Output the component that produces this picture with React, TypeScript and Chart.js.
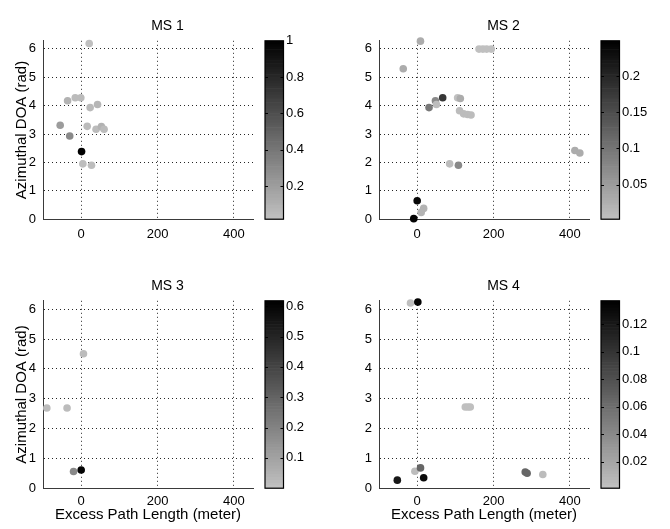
import React, { useEffect, useRef } from 'react';
import { Chart, registerables } from 'chart.js';
Chart.register(...registerables);

const FONT = "'Liberation Sans', Arial, Helvetica, sans-serif";

const xTicks = [0, 200, 400];
const yTicks = [0, 1, 2, 3, 4, 5, 6];
const xRange = [-100, 450];
const yRange = [0, 2 * Math.PI];
const xLabel = 'Excess Path Length (meter)';
const yLabel = 'Azimuthal DOA (rad)';

// MS 1
const ms1X = [21, -35.6, -15.6, -1, 23.5, 42.8, -55, -30, 15.8, 39, 53, 60, 1, 4.4, 27];
const ms1Y = [6.19, 4.17, 4.28, 4.28, 3.93, 4.04, 3.31, 2.93, 3.27, 3.17, 3.26, 3.17, 2.38, 1.95, 1.9];
const ms1P = [0.03, 0.1, 0.05, 0.05, 0.06, 0.08, 0.21, 0.3, 0.05, 0.05, 0.1, 0.05, 1.0, 0.04, 0.04];
const ms1CbTicks = [0.2, 0.4, 0.6, 0.8, 1];
const ms1CbRange = [0.017, 1];

// MS 2
const ms2X = [8.6, 162, 172, 182, 194, -36.5, 31, 47.8, 50.4, 66.8, 106, 113, 111, 121.7, 132, 141, 85, 108, 413, 426, 0, 17, 10.5, -9];
const ms2Y = [6.27, 5.99, 5.99, 5.99, 5.99, 5.3, 3.93, 4.17, 4.04, 4.28, 4.28, 4.25, 3.82, 3.71, 3.69, 3.67, 1.95, 1.9, 2.42, 2.33, 0.65, 0.38, 0.24, 0.02];
const ms2P = [0.03, 0.005, 0.005, 0.005, 0.005, 0.03, 0.095, 0.075, 0.01, 0.18, 0.005, 0.03, 0.01, 0.01, 0.01, 0.01, 0.01, 0.075, 0.03, 0.03, 0.24, 0.02, 0.02, 0.245];
const ms2CbTicks = [0.05, 0.1, 0.15, 0.2];
const ms2CbRange = [0.002, 0.249];

// MS 3
const ms3X = [6, -90, -37, -20, 0];
const ms3Y = [4.51, 2.69, 2.69, 0.56, 0.61];
const ms3P = [0.02, 0.02, 0.02, 0.18, 0.61];
const ms3CbTicks = [0.1, 0.2, 0.3, 0.4, 0.5, 0.6];
const ms3CbRange = [0, 0.618];

// MS 4
const ms4X = [-17.5, 1.7, 126, 133, 139, -52, -6, 8.7, 17, 283, 288, 329];
const ms4Y = [6.21, 6.24, 2.72, 2.72, 2.72, 0.27, 0.57, 0.68, 0.35, 0.54, 0.5, 0.46];
const ms4P = [0.003, 0.135, 0.003, 0.003, 0.003, 0.12, 0.005, 0.065, 0.13, 0.065, 0.065, 0.005];
const ms4CbTicks = [0.02, 0.04, 0.06, 0.08, 0.1, 0.12];
const ms4CbRange = [0.0006, 0.137];

const titles = ['MS 1', 'MS 2', 'MS 3', 'MS 4'];

function gray(t: number) {
  const c = Math.max(0, Math.min(1, t));
  const g = Math.round(194 * (1 - c));
  return `rgb(${g},${g},${g})`;
}

function fmt(v: number) {
  return String(Number(Number(v).toFixed(6)));
}

const colorbarPlugin = {
  id: 'colorbarPlugin',
  afterDraw(chart: any) {
    const s = chart.scales.cb;
    if (!s) return;
    const ctx = chart.ctx;
    const x0 = s.left + 12;
    const w = 18.5;
    const top = s.top;
    const bottom = s.bottom;
    const n = 64;
    ctx.save();
    for (let i = 0; i < n; i++) {
      const t = (i + 0.5) / n;
      const yb = bottom - ((bottom - top) * i) / n;
      const yt = bottom - ((bottom - top) * (i + 1)) / n;
      ctx.fillStyle = gray(t);
      ctx.fillRect(x0, yt, w, yb - yt + 0.6);
    }
    ctx.strokeStyle = '#000';
    ctx.lineWidth = 1.2;
    ctx.strokeRect(x0, top, w, bottom - top);
    ctx.lineWidth = 1;
    for (const tk of s.ticks) {
      const py = Math.round(s.getPixelForValue(tk.value)) + 0.5;
      ctx.beginPath();
      ctx.moveTo(x0, py);
      ctx.lineTo(x0 + 3, py);
      ctx.moveTo(x0 + w - 3, py);
      ctx.lineTo(x0 + w, py);
      ctx.stroke();
    }
    ctx.restore();
  },
};

type Spec = {
  xs: number[];
  ys: number[];
  ps: number[];
  cbTicks: number[];
  cbRange: number[];
  title: string;
  left: number;
  top: number;
  height: number;
  showY: boolean;
  showX: boolean;
};

const specs: Spec[] = [
  { xs: ms1X, ys: ms1Y, ps: ms1P, cbTicks: ms1CbTicks, cbRange: ms1CbRange, title: titles[0], left: 0, top: 0, height: 260, showY: true, showX: false },
  { xs: ms2X, ys: ms2Y, ps: ms2P, cbTicks: ms2CbTicks, cbRange: ms2CbRange, title: titles[1], left: 336, top: 0, height: 260, showY: false, showX: false },
  { xs: ms3X, ys: ms3Y, ps: ms3P, cbTicks: ms3CbTicks, cbRange: ms3CbRange, title: titles[2], left: 0, top: 260, height: 269, showY: true, showX: true },
  { xs: ms4X, ys: ms4Y, ps: ms4P, cbTicks: ms4CbTicks, cbRange: ms4CbRange, title: titles[3], left: 336, top: 260, height: 269, showY: false, showX: true },
];

function Panel({ spec }: { spec: Spec }) {
  const ref = useRef<HTMLCanvasElement>(null);
  useEffect(() => {
    if (!ref.current) return;
    const [cmin, cmax] = spec.cbRange;
    const colors = spec.ps.map((v) => gray((v - cmin) / (cmax - cmin)));
    const bottomTitle = spec.showX;
    const chart = new Chart(ref.current, {
      type: 'scatter',
      data: {
        datasets: [
          {
            data: spec.xs.map((x, i) => ({ x, y: spec.ys[i] })),
            backgroundColor: colors,
            borderColor: colors,
            borderWidth: 0,
            pointRadius: 3.8,
            pointHoverRadius: 3.8,
            clip: false,
          },
        ],
      },
      options: {
        animation: false,
        responsive: false,
        devicePixelRatio: 1,
        events: [],
        layout: { padding: 0, autoPadding: false },
        plugins: {
          legend: { display: false },
          tooltip: { enabled: false },
          title: {
            display: true,
            text: spec.title,
            color: '#000',
            font: { family: FONT, size: 14, weight: 'normal' },
            padding: bottomTitle ? { top: 11.6, bottom: 6.4 } : { top: 6.6, bottom: 6.4 },
          },
        },
        scales: {
          x: {
            type: 'linear',
            position: 'bottom',
            min: xRange[0],
            max: xRange[1],
            afterBuildTicks: (s: any) => {
              s.ticks = xTicks.map((v) => ({ value: v }));
            },
            afterFit: (s: any) => {
              s.height = bottomTitle ? 40 : 37;
            },
            grid: { color: 'rgba(0,0,0,0.85)', lineWidth: 1, drawTicks: false },
            border: { display: true, color: '#3a3a3a', width: 1, dash: [1, 3] },
            ticks: { color: '#000', font: { family: FONT, size: 13 }, padding: bottomTitle ? 5 : 7.5, maxRotation: 0, callback: (v: any) => fmt(v) },
            title: {
              display: spec.showX,
              text: xLabel,
              color: '#000',
              font: { family: FONT, size: 15 },
              padding: { top: 0, bottom: 4 },
            },
          },
          y: {
            type: 'linear',
            position: 'left',
            min: yRange[0],
            max: yRange[1],
            afterBuildTicks: (s: any) => {
              s.ticks = yTicks.map((v) => ({ value: v }));
            },
            afterFit: (s: any) => {
              s.width = 43;
            },
            grid: { color: 'rgba(0,0,0,0.85)', lineWidth: 1, drawTicks: false },
            border: { display: true, color: '#3a3a3a', width: 1, dash: [1, 3] },
            ticks: { color: '#000', font: { family: FONT, size: 13 }, padding: 7, callback: (v: any) => fmt(v) },
            title: {
              display: spec.showY,
              text: yLabel,
              color: '#000',
              font: { family: FONT, size: 15 },
              padding: { top: 12.7, bottom: 0 },
            },
          },
          cb: {
            type: 'linear',
            position: 'right',
            min: cmin,
            max: cmax,
            afterBuildTicks: (s: any) => {
              s.ticks = spec.cbTicks.map((v) => ({ value: v }));
            },
            afterFit: (s: any) => {
              s.width = 82;
            },
            grid: { display: false, drawTicks: false },
            border: { display: false },
            ticks: { color: '#000', font: { family: FONT, size: 13 }, padding: 33, callback: (v: any) => fmt(v) },
          },
        },
      } as any,
      plugins: [colorbarPlugin],
    });
    return () => chart.destroy();
  }, [spec]);
  return (
    <canvas
      ref={ref}
      width={335}
      height={spec.height}
      style={{ position: 'absolute', left: spec.left, top: spec.top, width: 335, height: spec.height }}
    />
  );
}

export default function App() {
  return (
    <div style={{ position: 'absolute', left: 0, top: 0, width: 670, height: 529, background: '#fff' }}>
      {specs.map((s, i) => (
        <Panel key={i} spec={s} />
      ))}
    </div>
  );
}
